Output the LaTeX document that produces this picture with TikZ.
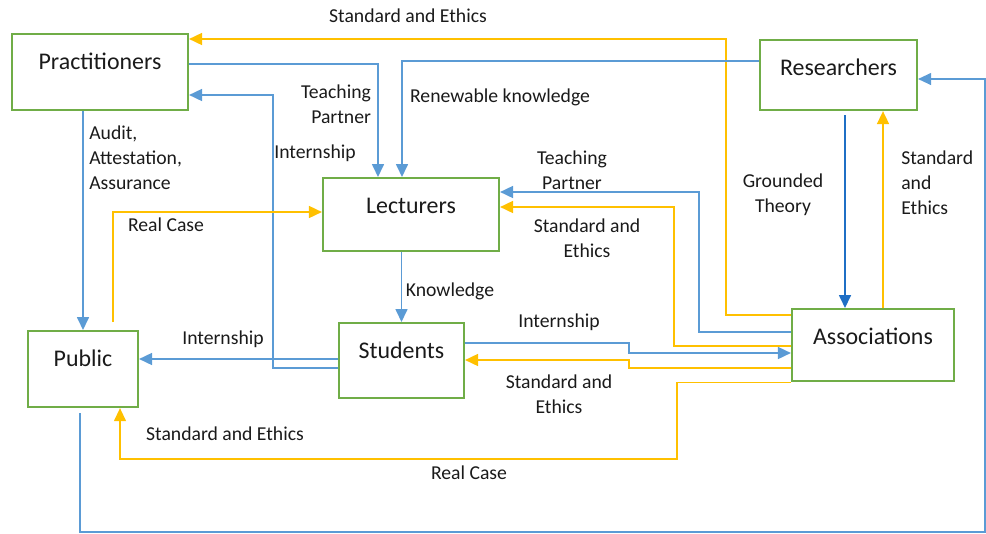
\documentclass[tikz,border=0pt]{standalone}
\usepackage{fontspec}
\setmainfont{Carlito}
\usetikzlibrary{arrows.meta}

\definecolor{boxgreen}{HTML}{70AD47}
\definecolor{lineblue}{HTML}{5B9BD5}
\definecolor{deepblue}{HTML}{1F6FC5}
\definecolor{lineyellow}{HTML}{FFC000}
\definecolor{inktext}{HTML}{1A1A1A}

\tikzset{
  actor/.style={draw=boxgreen, line width=1.5pt, anchor=north, inner ysep=0pt,
    text height=0.875cm, font=\fontsize{17}{20}\selectfont, text=inktext},
  flowblue/.style={draw=lineblue, line width=1.2pt, -{Triangle[length=0.325cm, width=0.3cm]}},
  flowgold/.style={draw=lineyellow, line width=1.2pt, -{Triangle[length=0.325cm, width=0.3cm]}},
  flowlabel/.style={font=\fontsize{14}{17.8}\selectfont, text=inktext, inner sep=0pt}
}

\begin{document}
\begin{tikzpicture}[x=0.025cm, y=-0.025cm]
  \useasboundingbox (0,0) rectangle (986,533);

  %%boxes
  \node[actor, minimum width=4.4cm, text depth=1.025cm] (prac) at (100,33) {Practitioners};
  \node[actor, minimum width=3.925cm, text depth=0.875cm] (res) at (838.5,39) {Researchers};
  \node[actor, minimum width=4.4cm, text depth=0.95cm] (lect) at (411,177) {Lecturers};
  \node[actor, minimum width=2.75cm, text depth=1.025cm] (pub) at (83,330) {Public};
  \node[actor, minimum width=3.125cm, text depth=1cm] (stud) at (401.5,322) {Students};
  \node[actor, minimum width=4.05cm, text depth=0.925cm] (assoc) at (873,308) {Associations};

  %%from associations
    \draw[flowgold] (assoc.west |- 0,315) -| (726,39) -- (prac.east |- 0,39);
    \draw[flowblue] (assoc.west |- 0,332) -| (699,192) -- (lect.east |- 0,192);
    \draw[flowgold] (assoc.west |- 0,346) -| (674,207) -- (lect.east |- 0,207);
    \draw[flowgold] (assoc.west |- 0,368) -| (629,360) -- (stud.east |- 0,360);
    \draw[flowgold, line width=0.9pt] (assoc.south west) -| (677,459) -| (120,0 |- pub.south);
    \draw[flowgold] (883,0 |- assoc.north) -- (883,0 |- res.south);

  %%from students
    \draw[flowblue] (stud.east |- 0,343) -| (629,353) -- (assoc.west |- 0,353);
    \draw[flowblue] (stud.west |- 0,368) -| (273,95) -- (prac.east |- 0,95);
    \draw[flowblue] (stud.west |- 0,359) -- (pub.east |- 0,359);

  %%from practitioners, researchers, lecturers
    \draw[flowblue] (prac.east |- 0,64) -| (378,0 |- lect.north);
    \draw[flowblue] (res.west |- 0,61) -| (402,0 |- lect.north);
    \draw[flowblue] (prac.south -| pub.north) -- (pub.north);
    \draw[flowblue] (lect.south -| stud.north) -- (stud.north);
    \draw[flowblue, draw=deepblue, shorten <=0.1cm] (845,0 |- res.south) -- (845,0 |- assoc.north);

  %%from public
    \draw[flowgold, shorten <=0.2cm] (113,0 |- pub.north) |- (lect.west |- 0,212);
    \draw[flowblue, line width=0.8pt, shorten <=0.125cm] (80,0 |- pub.south) |- (985,532) |- (res.east |- 0,79);

  %%labels
  \node[flowlabel] (lsetop) at (408,16) {Standard and Ethics};
  \node[flowlabel, align=right] (ltp1) at (336,104) {Teaching\\Partner};
  \node[flowlabel] (lrenew) at (500,97) {Renewable knowledge};
  \node[flowlabel, align=left, anchor=west] (laudit) at (89,158) {Audit,\\Attestation,\\Assurance};
  \node[flowlabel] (lint1) at (315,153) {Internship};
  \node[flowlabel] (lrc1) at (166,225) {Real Case};
  \node[flowlabel, align=center] (ltp2) at (572,170) {Teaching\\Partner};
  \node[flowlabel, align=center] (lse1) at (587,238) {Standard and\\Ethics};
  \node[flowlabel, align=center] (lgt) at (783,195) {Grounded\\Theory};
  \node[flowlabel, align=left, anchor=west] (lse2) at (901,183) {Standard\\and\\Ethics};
  \node[flowlabel] (lknow) at (450,291) {Knowledge};
  \node[flowlabel] (lint2) at (223,339) {Internship};
  \node[flowlabel] (lint3) at (559,322) {Internship};
  \node[flowlabel, align=center] (lse3) at (559,394) {Standard and\\Ethics};
  \node[flowlabel] (lse4) at (225,434) {Standard and Ethics};
  \node[flowlabel] (lrc2) at (469,473) {Real Case};
\end{tikzpicture}
\end{document}
